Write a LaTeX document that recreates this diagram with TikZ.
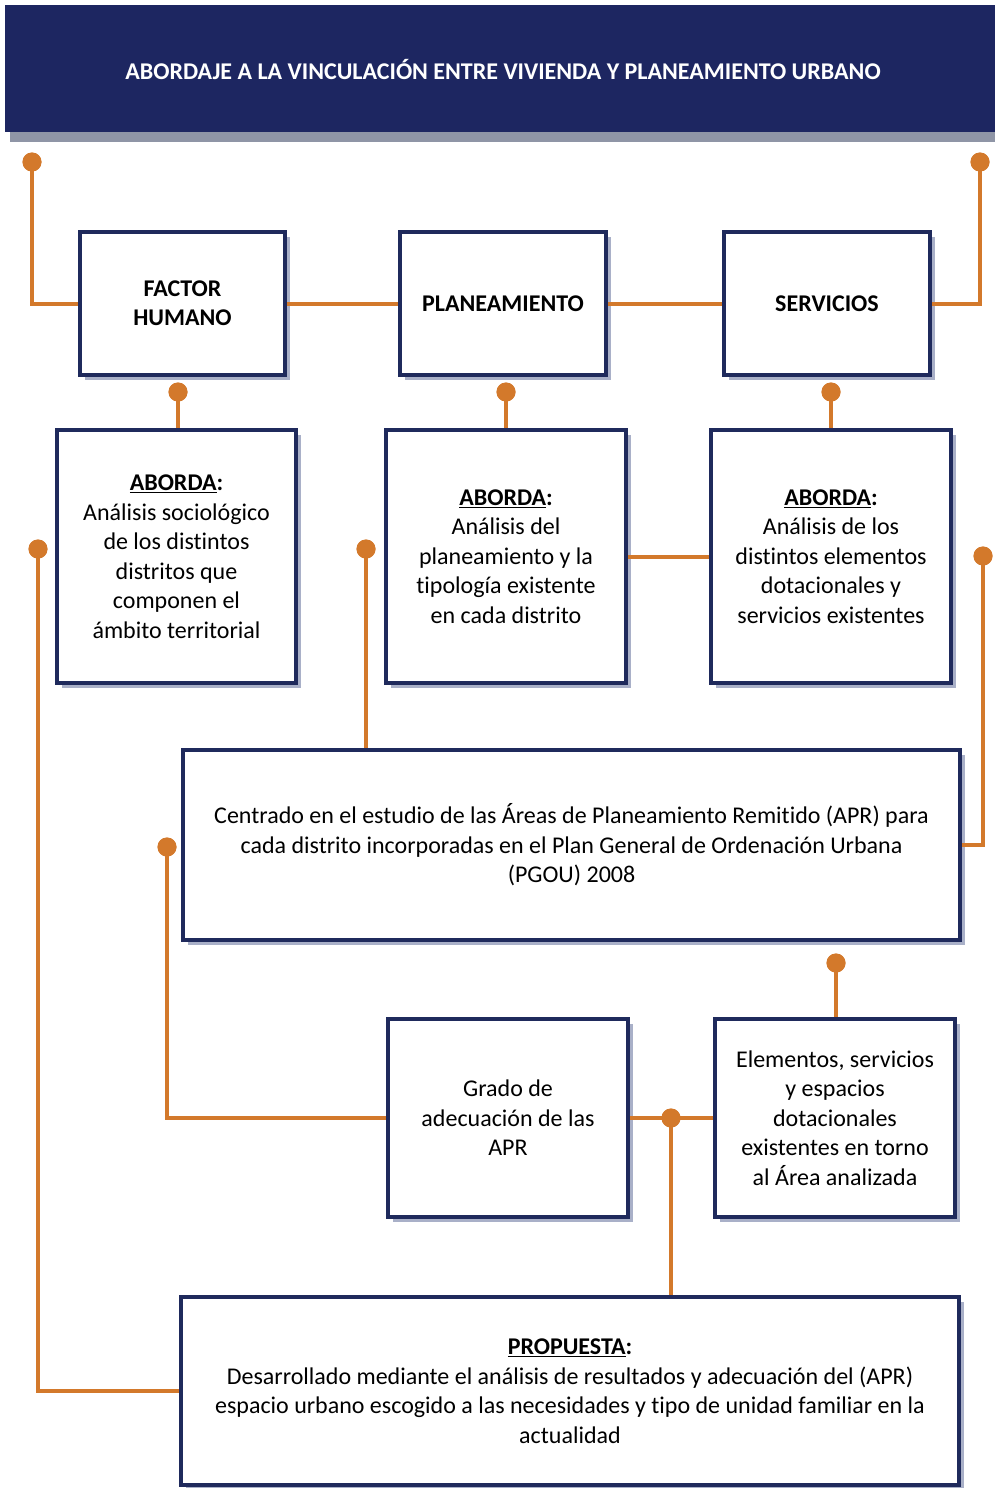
\documentclass[tikz,border=0pt]{standalone}
\usepackage{fontspec}
\setmainfont{Carlito}[Ligatures={NoCommon}]
\usetikzlibrary{shadows}
\definecolor{navy}{HTML}{1D2661}
\definecolor{boxline}{HTML}{1F2A5C}
\definecolor{orng}{HTML}{D3792B}
\definecolor{shad}{HTML}{A9B0C8}
\definecolor{hshad}{HTML}{8F95A6}
\tikzset{
  box/.style={draw=boxline, line width=4pt, fill=white, align=center, inner sep=0pt,
    drop shadow={shadow xshift=5pt, shadow yshift=-5pt, fill=shad, opacity=1},
    font=\fontsize{24}{29.5}\selectfont},
  boldbox/.style={box, font=\fontsize{24}{29}\selectfont\bfseries},
  conn/.style={draw=orng, line width=4pt},
  dot/.style={circle, fill=orng, minimum size=19pt, inner sep=0pt},
}
\begin{document}
\begin{tikzpicture}[x=1pt,y=-1pt]
\useasboundingbox (0,0) rectangle (995,1488);
% header
\fill[hshad] (10,132) rectangle (995,142);
\fill[navy] (5,5) rectangle (995,132);
\node[text=white, font=\fontsize{24}{28}\selectfont\bfseries] (hdr) at (503,70) {ABORDAJE A LA VINCULACIÓN ENTRE VIVIENDA Y PLANEAMIENTO URBANO};
% dots
\node[dot] (dtl) at (32,162) {};
\node[dot] (dtr) at (980,162) {};
\node[dot] (dfh) at (178,392) {};
\node[dot] (dpl) at (506,392) {};
\node[dot] (dsv) at (831,392) {};
\node[dot] (dl) at (38,549) {};
\node[dot] (dm) at (366,549) {};
\node[dot] (dr) at (983,556) {};
\node[dot] (dce) at (167,847) {};
\node[dot] (del) at (836,963) {};
\node[dot] (dj) at (671,1118) {};
% row 1
\node[boldbox, minimum width=205, minimum height=143] (fh) at (182.5,303.5) {FACTOR\\HUMANO};
\node[boldbox, minimum width=206, minimum height=143] (pl) at (503,303.5) {PLANEAMIENTO};
\node[boldbox, minimum width=206, minimum height=143] (sv) at (827,303.5) {SERVICIOS};
% row 2
\node[box, minimum width=239, minimum height=253] (a1) at (176.5,556.5) {\textbf{\underline{ABORDA}:}\\Análisis sociológico\\de los distintos\\distritos que\\componen el\\ámbito territorial};
\node[box, minimum width=240, minimum height=253] (a2) at (506,556.5) {\textbf{\underline{ABORDA}:}\\Análisis del\\planeamiento y la\\tipología existente\\en cada distrito};
\node[box, minimum width=240, minimum height=253] (a3) at (831,556.5) {\textbf{\underline{ABORDA}:}\\Análisis de los\\distintos elementos\\dotacionales y\\servicios existentes};
% row 3
\node[box, minimum width=777, minimum height=190] (ce) at (571.5,845) {Centrado en el estudio de las Áreas de Planeamiento Remitido (APR) para\\cada distrito incorporadas en el Plan General de Ordenación Urbana\\(PGOU) 2008};
% row 4
\node[box, minimum width=240, minimum height=198] (gr) at (508,1118) {Grado de\\adecuación de las\\APR};
\node[box, minimum width=240, minimum height=198] (el) at (835,1118) {Elementos, servicios\\y espacios\\dotacionales\\existentes en torno\\al Área analizada};
% row 5
\node[box, minimum width=778, minimum height=188] (pr) at (570,1391) {\textbf{\underline{PROPUESTA}:}\\Desarrollado mediante el análisis de resultados y adecuación del (APR)\\espacio urbano escogido a las necesidades y tipo de unidad familiar en la\\actualidad};
% connectors
\draw[conn] (dtl.center) |- (fh.west);
\draw[conn] (fh.east) -- (pl.west);
\draw[conn] (pl.east) -- (sv.west);
\draw[conn] (sv.east) -| (dtr.center);
\draw[conn] (dfh.center) -- (dfh.center |- a1.north);
\draw[conn] (dpl.center) -- (dpl.center |- a2.north);
\draw[conn] (dsv.center) -- (dsv.center |- a3.north);
\draw[conn] (a2.east) -- (a3.west);
\draw[conn] (dm.center) -- (dm.center |- ce.north);
\draw[conn] (dr.center) |- (ce.east);
\draw[conn] (dl.center) |- (pr.west);
\draw[conn] (dce.center) |- (gr.west);
\draw[conn] (del.center) -- (del.center |- el.north);
\draw[conn] (gr.east) -- (el.west);
\draw[conn] (dj.center) -- (dj.center |- pr.north);
% dots on top
\foreach \d in {dtl,dtr,dfh,dpl,dsv,dl,dm,dr,dce,del,dj} {\fill[orng] (\d.center) circle (9.5pt);}
\end{tikzpicture}
\end{document}
